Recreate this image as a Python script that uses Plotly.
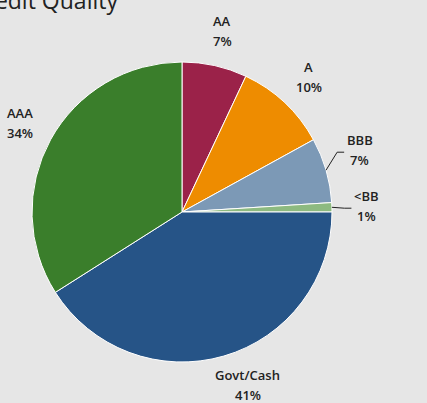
import math
import plotly.graph_objects as go

labels = ["AA", "A", "BBB", "<BB", "Govt/Cash", "AAA"]
values = [7, 10, 7, 1, 41, 34]
colors = ["#9b2249", "#ee8c00", "#7c99b6", "#8dba80", "#265487", "#3a7e2b"]
title_text = "Credit Quality"

# ---- layout geometry (pixels) ----
W, H = 427, 403
ML, MR, MT, MB = 32, 95, 62, 41
PW, PH = W - ML - MR, H - MT - MB
CX, CY = ML + PW / 2, MT + PH / 2
R = min(PW, PH) / 2
LABEL_R = R + 35          # distance of label centres from pie centre
LINE_GAP = 10             # half distance between the two label lines
MIN_SEP = 56              # minimum vertical gap between stacked labels
EDGE_PAD = 18             # keep label centres this far from the page edge
CHAR_W = 4.5              # approx. half-width per character
TXT_COLOR = "#222222"
FONT = dict(family="Open Sans", size=13, color=TXT_COLOR, weight=600)


def px2paper(x, y):
    return (x - ML) / PW, (H - MB - y) / PH


fig = go.Figure(go.Pie(
    labels=labels, values=values, sort=False, direction="clockwise", rotation=0,
    marker=dict(colors=colors, line=dict(color="white", width=1)),
    textinfo="none", showlegend=False, automargin=False,
    hoverinfo="label+percent",
))

# ---- label placement derived from the data ----
total = sum(values)
cum = 0
items = []
for lab, v in zip(labels, values):
    mid = math.radians((cum + v / 2) / total * 360)
    cum += v
    pct = f"{round(v / total * 100):d}%"
    it = dict(
        name=lab, pct=pct,
        ex=CX + R * math.sin(mid), ey=CY - R * math.cos(mid),
        x=CX + LABEL_R * math.sin(mid), y=CY - LABEL_R * math.cos(mid),
        right=math.sin(mid) >= 0,
        side=abs(math.sin(mid)) > 0.9,
        hw=CHAR_W * max(len(lab), len(pct)),
    )
    # keep the label inside the page: slide it along the label circle
    y_cl = min(max(it["y"], EDGE_PAD), H - EDGE_PAD)
    if y_cl != it["y"]:
        dx = math.sqrt(max(LABEL_R ** 2 - (y_cl - CY) ** 2, 0))
        it["x"] = CX + (dx if it["right"] else -dx)
        it["y"] = y_cl
    items.append(it)

# simple overlap avoidance on each half: push upper labels up
for right in (True, False):
    grp = sorted([it for it in items if it["right"] == right], key=lambda d: d["y"])
    for i in range(len(grp) - 1, 0, -1):
        a, b = grp[i - 1], grp[i]
        if abs(a["x"] - b["x"]) < a["hw"] + b["hw"] and a["y"] > b["y"] - MIN_SEP:
            a["y"] = b["y"] - MIN_SEP

for it in items:
    for txt, dy in ((it["name"], -LINE_GAP), (it["pct"], LINE_GAP)):
        xp, yp = px2paper(it["x"], it["y"] + dy)
        fig.add_annotation(text=txt, xref="paper", yref="paper", x=xp, y=yp,
                           xanchor="center", yanchor="middle", showarrow=False,
                           font=FONT)
    if it["side"]:
        sgn = 1 if it["right"] else -1
        box_edge = it["x"] - sgn * (it["hw"] + 2)
        ly = it["y"] + 2
        pts = [(it["ex"], it["ey"]), (box_edge - sgn * 7, ly), (box_edge, ly)]
        for (x0, y0), (x1, y1) in zip(pts[:-1], pts[1:]):
            a0, b0 = px2paper(x0, y0)
            a1, b1 = px2paper(x1, y1)
            fig.add_shape(type="line", xref="paper", yref="paper",
                          x0=a0, y0=b0, x1=a1, y1=b1,
                          line=dict(color=TXT_COLOR, width=1))

# ---- title (partly outside the page, as in the original) ----
tx, ty = px2paper(120, 0)
fig.add_annotation(
    text=title_text, xref="paper", yref="paper", x=tx, y=ty,
    xanchor="right", yanchor="middle", showarrow=False,
    font=dict(family="Open Sans", size=23, color=TXT_COLOR),
)

fig.update_layout(
    width=W, height=H,
    margin=dict(l=ML, r=MR, t=MT, b=MB, autoexpand=False),
    paper_bgcolor="#e6e6e6",
    plot_bgcolor="#e6e6e6",
)

fig.write_html("out.html")
